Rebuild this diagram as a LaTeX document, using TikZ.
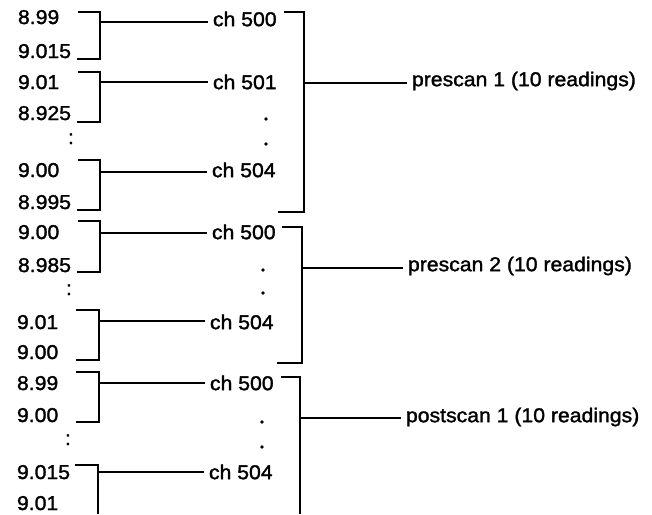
\documentclass[tikz,border=0pt]{standalone}
\usepackage{fontspec}
\setmainfont{Liberation Sans}[FakeStretch=1.06,FakeBold=1.6]
\begin{document}
\begin{tikzpicture}[x=1pt,y=-1pt,
  lbl/.style={inner sep=0pt,outer sep=0pt,anchor=base west,font=\fontsize{20}{22}\selectfont},
  ln/.style={line width=1.2pt,black},
  dot/.style={circle,fill=black,inner sep=0pt,minimum size=3.8pt}]
\useasboundingbox (0,0) rectangle (652,514);
% left readings
\node[lbl] (r1) at (18,24) {8.99};
\node[lbl] (r2) at (18,58) {9.015};
\node[lbl] (r3) at (18,89) {9.01};
\node[lbl] (r4) at (18,120) {8.925};
\node[lbl] (c1) at (68,144) {:};
\node[lbl] (r5) at (18,177) {9.00};
\node[lbl] (r6) at (18,209) {8.995};
\node[lbl] (r7) at (18,239) {9.00};
\node[lbl] (r8) at (18,272) {8.985};
\node[lbl] (c2) at (66,295) {:};
\node[lbl] (r9) at (17,329) {9.01};
\node[lbl] (r10) at (17,359) {9.00};
\node[lbl] (r11) at (17,390) {8.99};
\node[lbl] (r12) at (17,422) {9.00};
\node[lbl] (c3) at (65,445) {:};
\node[lbl] (r13) at (17,479) {9.015};
\node[lbl] (r14) at (17,510) {9.01};
% channel labels
\node[lbl,anchor=west] (ch1) at (213,19) {ch 500};
\node[lbl,anchor=west] (ch2) at (213,82) {ch 501};
\node[lbl,anchor=west] (ch3) at (212,170) {ch 504};
\node[lbl,anchor=west] (ch4) at (212,232) {ch 500};
\node[lbl,anchor=west] (ch5) at (210,322) {ch 504};
\node[lbl,anchor=west] (ch6) at (210,383) {ch 500};
\node[lbl,anchor=west] (ch7) at (209,472) {ch 504};
% dots
\node[dot] (d1) at (266,119) {};
\node[dot] (d2) at (266,144) {};
\node[dot] (d3) at (263,270) {};
\node[dot] (d4) at (263,293) {};
\node[dot] (d5) at (262,422) {};
\node[dot] (d6) at (262,447) {};
% scan labels
\node[lbl,anchor=west] (s1) at (412,81) {prescan 1 (10 readings)};
\node[lbl,anchor=west] (s2) at (408,266) {prescan 2 (10 readings)};
\node[lbl,anchor=west] (s3) at (406,417) {postscan 1 (10 readings)};
% left brackets
\coordinate (bA) at (100,22);
\coordinate (bB) at (100,82);
\coordinate (bC) at (100,172);
\coordinate (bD) at (100,233);
\coordinate (bE) at (99,321);
\coordinate (bF) at (99,383);
\coordinate (bG) at (98,472);
\draw[ln] (78,12) -- (100,12) -- (100,59) -- (77,59);
\draw[ln] (78,72) -- (100,72) -- (100,122) -- (77,122);
\draw[ln] (78,160) -- (100,160) -- (100,210) -- (77,210);
\draw[ln] (78,221) -- (100,221) -- (100,272) -- (77,272);
\draw[ln] (76,310) -- (99,310) -- (99,360) -- (76,360);
\draw[ln] (76,372) -- (99,372) -- (99,422) -- (76,422);
\draw[ln] (75,465) -- (98,465) -- (98,514);
\draw[ln] (bA) -- ([xshift=-5pt]bA -| ch1.west);
\draw[ln] (bB) -- ([xshift=-5pt]bB -| ch2.west);
\draw[ln] (bC) -- ([xshift=-5pt]bC -| ch3.west);
\draw[ln] (bD) -- ([xshift=-5pt]bD -| ch4.west);
\draw[ln] (bE) -- ([xshift=-5pt]bE -| ch5.west);
\draw[ln] (bF) -- ([xshift=-5pt]bF -| ch6.west);
\draw[ln] (bG) -- ([xshift=-5pt]bG -| ch7.west);
% right brackets
\coordinate (g1) at (304,83);
\coordinate (g2) at (302,268);
\coordinate (g3) at (300,418);
\draw[ln] (284,12) -- (304,12) -- (304,212) -- (278,212);
\draw[ln] (282,227) -- (302,227) -- (302,363) -- (277,363);
\draw[ln] (281,377) -- (300,377) -- (300,514);
\draw[ln] (g1) -- ([xshift=-5pt]g1 -| s1.west);
\draw[ln] (g2) -- ([xshift=-5pt]g2 -| s2.west);
\draw[ln] (g3) -- ([xshift=-5pt]g3 -| s3.west);
\end{tikzpicture}
\end{document}
